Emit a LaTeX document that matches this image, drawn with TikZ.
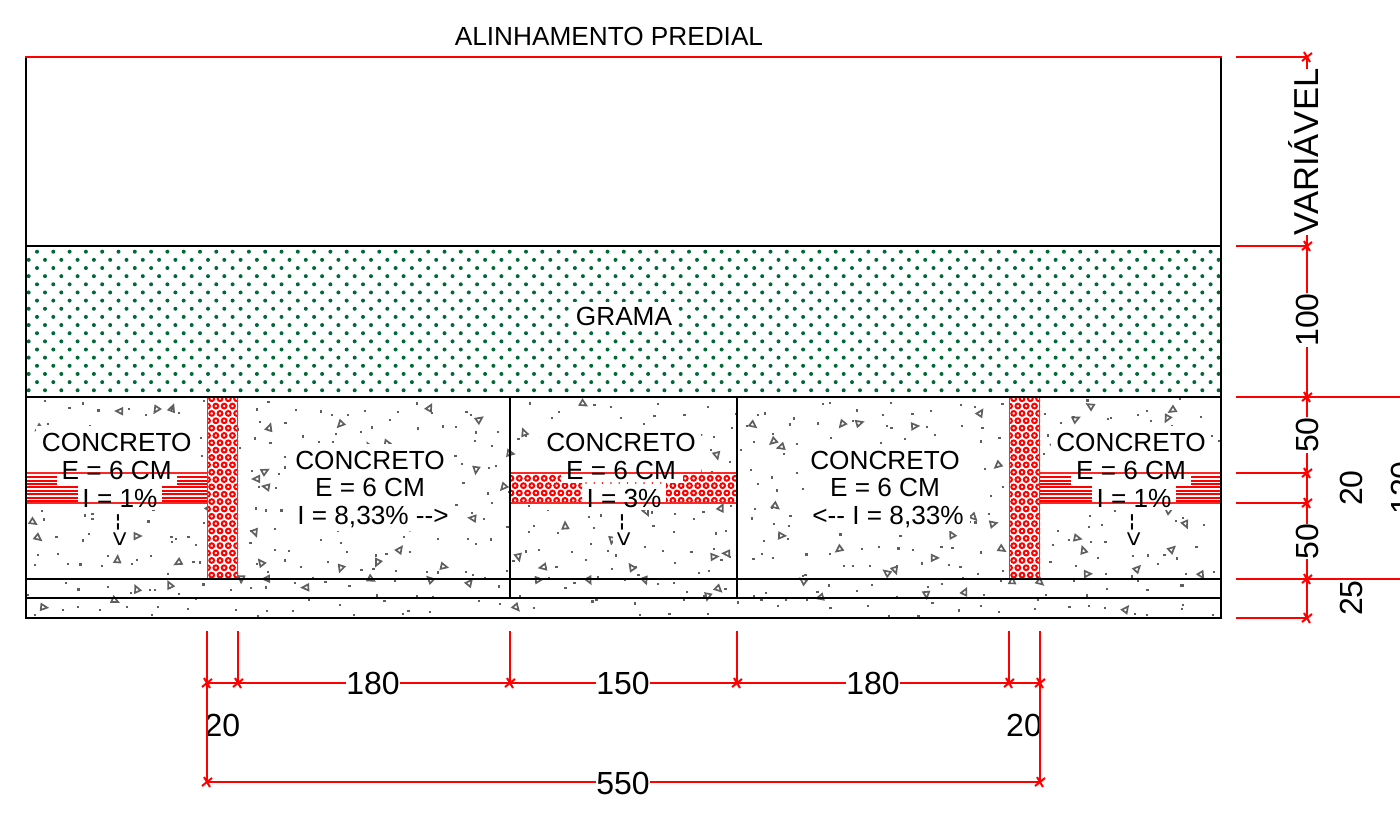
\documentclass[tikz,border=0pt]{standalone}
\usepackage{fontspec}
\setmainfont{Liberation Sans}
\newfontfamily\plainsans{Liberation Sans}
\definecolor{gramagreen}{RGB}{0,105,55}
\definecolor{specklegray}{RGB}{95,95,95}

% ring hatch: #1,#2 first ring, #3 columns, #4 rows
\newcommand{\ringhatch}[4]{
    \foreach \ry in {0,...,#4}{
        \foreach \rx in {0,...,#3}{
            \pgfmathsetmacro{\ringx}{#1+8.3*\rx+4.15*mod(\ry,2)}
            \pgfmathsetmacro{\ringy}{#2+7.35*\ry}
            \draw[red, line width=2pt] (\ringx,\ringy) circle [radius=2.4];
        }
    }
}
% line hatch: #1 left end, #2 #3 #4 #5 gaps left by the text, #6 right end
\newcommand{\linehatch}[6]{
    \foreach \ly in {477,480.7,484}{
        \draw[hatchline] (#1,\ly) -- (#2,\ly);
        \draw[hatchline] (#5,\ly) -- (#6,\ly);
    }
    \foreach \ly in {487.4,490.8,494.2,497.6,501}{
        \draw[hatchline] (#1,\ly) -- (#3,\ly);
        \draw[hatchline] (#4,\ly) -- (#6,\ly);
    }
    \draw[thinred] (#1,473) -- (#6,473);
    \draw[thinred] (#1,503) -- (#6,503);
}

\begin{document}
\begin{tikzpicture} [x=1pt, y=-1pt,
            edgeline/.style={draw=black, line width=2.6pt},
            innerline/.style={draw=black, line width=2.2pt},
            dimline/.style={draw=red, line width=2.4pt},
            tickline/.style={draw=red, line width=2pt},
            hatchline/.style={draw=red, line width=2pt},
            thinred/.style={draw=red!85, line width=1.3pt},
            concnote/.style={font=\plainsans\fontsize{26.2}{28}\selectfont, text height=18.8pt, text depth=0pt, inner sep=0pt},
            dimnote/.style={font=\plainsans\fontsize{32}{34}\selectfont, text height=23pt, text depth=0pt, inner sep=0pt},
            gapnote/.style={dimnote, fill=white},]
        \useasboundingbox (0,0) rectangle (1400,823);

        % grama
        \begin{scope}
            \clip (26,246) rectangle (1221,397);
            \foreach \k in {0,...,17}{
                \foreach \m in {0,...,73}{
                    \pgfmathsetmacro{\gx}{28.7+8.3*mod(\k+1,2)+16.3*\m}
                    \pgfmathsetmacro{\gy}{251.7+8.15*\k}
                    \fill[gramagreen] (\gx,\gy) circle [radius=2];
                }
            }
        \end{scope}
        \fill[white] (572,302) rectangle (675,330);

        % concreto
        \pgfmathsetseed{4711}
        \begin{scope}
            \clip (26,397) rectangle (1221,618);
            \foreach \cx in {0,...,56}{
                \foreach \cy in {0,...,10}{
                    \pgfmathsetmacro{\sx}{28+21*\cx+21*rnd}
                    \pgfmathsetmacro{\sy}{399+19.8*\cy+19.8*rnd}
                    \fill[specklegray] (\sx-1.1,\sy-1.1) rectangle (\sx+1.1,\sy+1.1);
                }
            }
            \foreach \cx in {0,...,25}{
                \foreach \cy in {0,...,4}{
                    \pgfmathsetmacro{\sx}{32+45.5*\cx+45.5*rnd}
                    \pgfmathsetmacro{\sy}{403+41.8*\cy+41.8*rnd}
                    \pgfmathsetmacro{\sr}{360*rnd}
                    \draw[specklegray, line width=1.7pt, shift={(\sx,\sy)}, rotate=\sr] (0,-3.6) -- (3,2.6) -- (-3,2.6) -- cycle;
                }
            }
        \end{scope}

        % white under the texts and hatches
        \fill[white] (36,426) rectangle (197,510);
        \fill[white] (290,444) rectangle (454,531);
        \fill[white] (541,426) rectangle (701,510);
        \fill[white] (806,444) rectangle (970,531);
        \fill[white] (1051,426) rectangle (1211,510);
        \fill[white] (110,510) rectangle (132,548);
        \fill[white] (613,510) rectangle (635,548);
        \fill[white] (1123,510) rectangle (1145,548);
        \fill[white] (26,473) rectangle (207,503);
        \fill[white] (511,473) rectangle (737,503);
        \fill[white] (1040,473) rectangle (1221,503);
        \fill[white] (207,397) rectangle (238,578);
        \fill[white] (1009,397) rectangle (1040,578);

        % hatches
        \linehatch{27}{57}{78}{162}{177}{207}
        \linehatch{1040}{1071}{1092}{1176}{1191}{1220}
        \begin{scope}
            \clip (207,398) rectangle (238,578);
            \ringhatch{203.4}{398.7}{5}{24}
        \end{scope}
        \begin{scope}
            \clip (1009,398) rectangle (1040,578);
            \ringhatch{1005.4}{398.7}{5}{24}
        \end{scope}
        \begin{scope}
            \clip (511,473) -- (737,473) -- (737,503) -- (666,503) -- (666,483) -- (683,483) -- (683,473) -- (561,473) -- (561,483) -- (582,483) -- (582,503) -- (511,503) -- cycle;
            \ringhatch{511}{478.3}{28}{3}
        \end{scope}
        \foreach \dx in {0,...,9}
            \fill[red] (586+8.3*\dx,483) circle [radius=0.9];
        \draw[thinred] (511,473) -- (737,473);
        \draw[thinred] (511,503) -- (737,503);
        \draw[thinred] (207.5,398) -- (207.5,578);
        \draw[thinred] (237.7,398) -- (237.7,578);
        \draw[thinred] (1009.5,398) -- (1009.5,578);
        \draw[thinred] (1039.7,398) -- (1039.7,578);

        % planta
        \draw[innerline] (26,246) -- (1221,246);
        \draw[innerline] (26,397) -- (1221,397);
        \draw[innerline] (26,579) -- (1221,579);
        \draw[innerline] (26,598) -- (1221,598);
        \draw[innerline] (510,397) -- (510,598);
        \draw[innerline] (737,397) -- (737,598);
        \draw[edgeline] (26,57) -- (26,618) -- (1221,618) -- (1221,57);
        \draw[dimline] (25,57) -- (1222,57);

        % textos
        \node[concnote] (alinhamento) at (609,36) {ALINHAMENTO PREDIAL};
        \node[concnote] (grama) at (624,316) {GRAMA};

        \node[concnote] (c1a) at (116.7,442) {CONCRETO};
        \node[concnote] (c1b) at (116.7,470) {E = 6 CM};
        \node[concnote] (c1c) at (120,498) {I = 1\%};
        \node[concnote, rotate=-90] (c1d) at (121,530) {-->};

        \node[concnote] (c2a) at (370,460) {CONCRETO};
        \node[concnote] (c2b) at (370,487) {E = 6 CM};
        \node[concnote] (c2c) at (373,515) {I = 8,33\% -->};

        \node[concnote] (c3a) at (621,442) {CONCRETO};
        \node[concnote] (c3b) at (621,470) {E = 6 CM};
        \node[concnote] (c3c) at (624,498) {I = 3\%};
        \node[concnote, rotate=-90] (c3d) at (625,530) {-->};

        \node[concnote] (c4a) at (885,460) {CONCRETO};
        \node[concnote] (c4b) at (885,487) {E = 6 CM};
        \node[concnote] (c4c) at (888,515) {<-- I = 8,33\%};

        \node[concnote] (c5a) at (1131,442) {CONCRETO};
        \node[concnote] (c5b) at (1131,470) {E = 6 CM};
        \node[concnote] (c5c) at (1134,498) {I = 1\%};
        \node[concnote, rotate=-90] (c5d) at (1135,530) {-->};

        % cotas
        \node[dimnote] (d20a) at (222.5,725) {20};
        \node[dimnote] (d20b) at (1024,725) {20};
        \node[dimnote, rotate=90] (d20c) at (1350.5,488) {20};
        \node[dimnote, rotate=90] (d25) at (1350.5,598) {25};
        \node[dimnote, rotate=90] (d120) at (1402,488) {120};

        \foreach \nm/\yy in {r1/57,r2/246,r3/397,r4/473,r5/503,r6/579,r7/618}{
            \coordinate (\nm) at (1307,\yy);
            \coordinate (\nm s) at (1236,\yy);
            \draw[dimline] (\nm s) -- (\nm);
            \draw[tickline] ([shift={(-5,4)}]\nm) -- ([shift={(5,-4)}]\nm);
            \draw[tickline] ([shift={(-3,-5)}]\nm) -- ([shift={(3,5)}]\nm);
        }
        \coordinate (r3e) at (1400,397);
        \coordinate (r6e) at (1400,579);
        \draw[dimline] (r3) -- (r3e);
        \draw[dimline] (r6) -- (r6e);
        \draw[dimline] (r1) -- (r7);

        \foreach \nm/\xx in {b1/207,b2/238,b3/510,b4/737,b5/1009,b6/1040}{
            \coordinate (\nm) at (\xx,683);
            \coordinate (\nm s) at (\xx,631);
            \draw[dimline] (\nm s) -- (\nm);
            \draw[tickline] ([shift={(-5,4)}]\nm) -- ([shift={(5,-4)}]\nm);
            \draw[tickline] ([shift={(-3,-5)}]\nm) -- ([shift={(3,5)}]\nm);
        }
        \draw[dimline] (b1) -- (b6);
        \foreach \nm/\xx in {t1/207,t2/1040}{
            \coordinate (\nm) at (\xx,782);
            \draw[tickline] ([shift={(-5,4)}]\nm) -- ([shift={(5,-4)}]\nm);
            \draw[tickline] ([shift={(-3,-5)}]\nm) -- ([shift={(3,5)}]\nm);
        }
        \draw[dimline] (t1) -- (t2);
        \draw[dimline] (b1) -- (t1);
        \draw[dimline] (b6) -- (t2);

        \node[gapnote, font=\plainsans\fontsize{34.6}{36}\selectfont, rotate=90] (variavel) at (1306.5,152) {VARIÁVEL};
        \node[gapnote, rotate=90] (d100) at (1306.5,320) {100};
        \node[gapnote, rotate=90] (d50a) at (1306.5,435) {50};
        \node[gapnote, rotate=90] (d50b) at (1306.5,541.5) {50};
        \node[gapnote] (d180a) at (373,683) {180};
        \node[gapnote] (d150) at (623,683) {150};
        \node[gapnote] (d180b) at (873,683) {180};
        \node[gapnote] (d550) at (623,783) {550};
    \end{tikzpicture}
\end{document}
